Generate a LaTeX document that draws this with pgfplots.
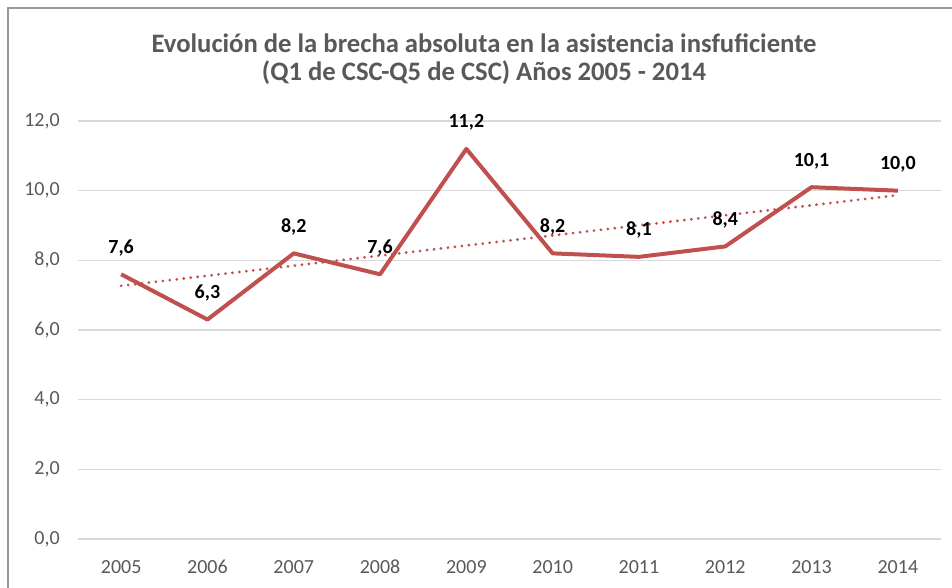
\documentclass[border=0pt]{standalone}
\usepackage{pgfplots}
\pgfplotsset{compat=1.18}
\usepackage{fontspec}
\setmainfont{Carlito}
\definecolor{serie}{HTML}{C0504D}
\definecolor{txt}{HTML}{595959}
\definecolor{gridc}{HTML}{D9D9D9}
\begin{document}
\begin{tikzpicture}[x=0.75pt,y=0.75pt]
\path[use as bounding box] (0,0) rectangle (952,587);
\draw[color=black!40, line width=0.9pt] (8,-2) -- (8,579) -- (954,579);
\begin{axis}[
 at={(58.5pt,36pt)}, anchor=south west, scale only axis,
 width=647.25pt, height=313.5pt,
 xmin=-0.5, xmax=9.5, ymin=0, ymax=12,
 xtick={0,1,2,3,4,5,6,7,8,9},
 xticklabels={2005,2006,2007,2008,2009,2010,2011,2012,2013,2014},
 ytick={0,2,4,6,8,10,12},
 ymajorgrids, major grid style={gridc, line width=0.9pt},
 axis line style={draw=none}, major tick length=0pt,
 tick label style={font=\fontsize{15}{18}\selectfont, text=txt},
 yticklabel style={inner sep=0pt, xshift=-13.5pt},
 xticklabel style={inner sep=0pt, yshift=-15.75pt},
 /pgf/number format/fixed, /pgf/number format/fixed zerofill,
 /pgf/number format/precision=1, /pgf/number format/use comma,
 /pgf/number format/assume math mode=true,
 clip=false,
]
\addplot[serie, line width=3pt, line join=round, mark=none,
  nodes near coords,
  every node near coord/.append style={font=\bfseries\fontsize{15}{18}\selectfont, text=black, anchor=base, inner sep=0pt, yshift=15.75pt}]
  coordinates {(0,7.6) (1,6.3) (2,8.2) (3,7.6) (4,11.2) (5,8.2) (6,8.1) (7,8.4) (8,10.1) (9,10.0)};
\addplot[serie, line width=2.3pt, line cap=round, dash pattern=on 0pt off 5.25pt, mark=none]
  coordinates {(0,7.269) (9,9.871)};
\end{axis}
\node[anchor=base, text=txt, font=\bfseries\fontsize{20}{24}\selectfont] at (484,534) {Evolución de la brecha absoluta en la asistencia insfuficiente};
\node[anchor=base, text=txt, font=\bfseries\fontsize{20}{24}\selectfont] at (484,507) {(Q1 de CSC-Q5 de CSC) Años 2005 - 2014};
\end{tikzpicture}
\end{document}
